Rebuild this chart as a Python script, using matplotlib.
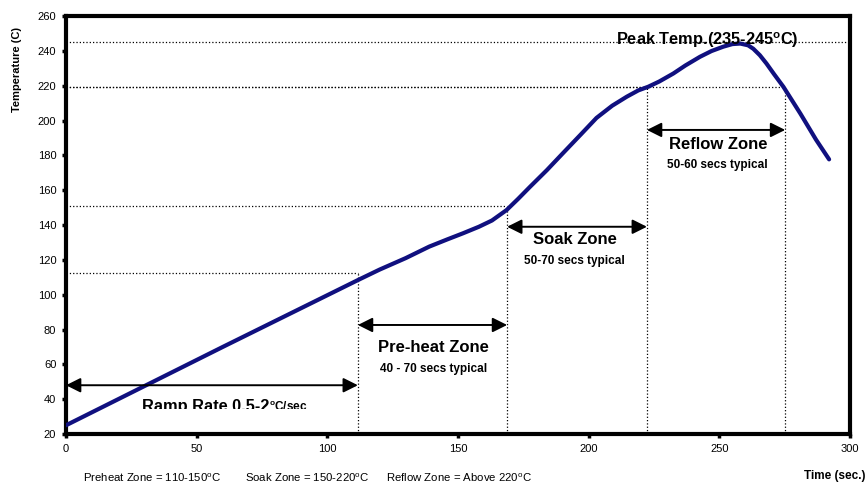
import matplotlib.pyplot as plt
from matplotlib.patches import Rectangle

plt.rcParams['font.family'] = ['Liberation Sans', 'DejaVu Sans']

# reflow profile
times = [0, 60, 112, 120, 130, 139, 146, 152, 158, 163, 168.6, 173, 177.6, 184, 190,
         197, 203, 209, 214.6, 219, 222.8, 227, 232.4, 237, 242.6, 247, 251.5, 255,
         258, 261, 263, 265.5, 268, 271, 274.5, 281, 287, 292]
temps = [25, 70, 108.6, 114.4, 121, 127.6, 131.8, 135.3, 139, 142.6, 148.6, 155,
         162, 171.5, 181, 192, 201.5, 208.5, 213.7, 217.3, 219.4, 222.4, 227, 231.6,
         236.6, 239.9, 242.4, 243.9, 244.2, 243.2, 241.2, 237.5, 232.8, 226.5, 219.4,
         204, 189, 177.7]

zone_x = [111.7, 168.8, 222.3, 275.2]
zone_y = [112.5, 151, 219, 219]
peak_y = 245

x_ticks = [0, 50, 100, 150, 200, 250, 300]
y_ticks = list(range(20, 261, 20))

fig = plt.figure(figsize=(8.67, 4.86), dpi=100)
ax = fig.add_axes([0.0761, 0.107, 0.9043, 0.86])

ax.plot(times, temps, color='#10107f', lw=3, zorder=3, solid_capstyle='round',
        solid_joinstyle='round')

# dotted guide lines
for zx, zy in zip(zone_x, zone_y):
    ax.plot([zx, zx], [20, zy], ls=':', color='black', lw=0.9)
    ax.plot([0, zx], [zy, zy], ls=':', color='black', lw=0.9)
ax.plot([0, 300], [peak_y, peak_y], ls=':', color='black', lw=0.9)

def arrow(x0, x1, y):
    ax.annotate('', xy=(x1, y), xytext=(x0, y),
                arrowprops=dict(arrowstyle='<|-|>', color='black', lw=1.4,
                                mutation_scale=22, shrinkA=0, shrinkB=0))

arrow(0, zone_x[0], 48)
arrow(zone_x[0], zone_x[1], 82.6)
arrow(zone_x[1], zone_x[2], 139)
arrow(zone_x[2], zone_x[3], 194.6)

# ramp label, cut off at the bottom like in the original
clip = Rectangle((0, 34.3), 300, 30, transform=ax.transData)
t = ax.text(29, 33.3, 'Ramp Rate 0.5-2', fontsize=11.8, fontweight='bold',
            ha='left', va='baseline', clip_on=True)
t.set_clip_path(clip)
fig.canvas.draw()
bb = t.get_window_extent(renderer=fig.canvas.get_renderer())
x_end = ax.transData.inverted().transform((bb.x1 - 12, bb.y0))[0]
t2 = ax.text(x_end, 33.3, r'$^{\mathregular{o}}$C/sec', fontsize=8.5, fontweight='bold',
             ha='left', va='baseline', clip_on=True)
t2.set_clip_path(clip)

ax.text(140.5, 69.4, 'Pre-heat Zone', fontsize=12, fontweight='bold', ha='center', va='center')
ax.text(140.5, 57.4, '40 - 70 secs typical', fontsize=8.5, fontweight='bold', ha='center', va='center')
ax.text(194.6, 131.4, 'Soak Zone', fontsize=12, fontweight='bold', ha='center', va='center')
ax.text(194.6, 119.4, '50-70 secs typical', fontsize=8.5, fontweight='bold', ha='center', va='center')
ax.text(249.4, 186.5, 'Reflow Zone', fontsize=12, fontweight='bold', ha='center', va='center')
ax.text(249.4, 174.5, '50-60 secs typical', fontsize=8.5, fontweight='bold', ha='center', va='center')
ax.text(245.3, 246.2, r'Peak Temp.(235-245$^{\mathregular{o}}$C)', fontsize=11.8, fontweight='bold',
        ha='center', va='center', zorder=4)

ax.set_xlim(0, 300)
ax.set_ylim(20, 260)
ax.set_xticks(x_ticks)
ax.set_yticks(y_ticks)
ax.tick_params(labelsize=8, length=3, width=2.5, pad=4)
for s in ax.spines.values():
    s.set_linewidth(3)

fig.text(17 / 867, 1 - 70 / 486, 'Temperature (C)', fontsize=8, fontweight='bold',
         rotation=90, ha='center', va='center')

note_y = 1 - 482 / 486
fig.text(83 / 867, note_y, r'Preheat Zone = 110-150$^{\mathregular{o}}$C', fontsize=8.2, va='baseline')
fig.text(245 / 867, note_y, r'Soak Zone = 150-220$^{\mathregular{o}}$C', fontsize=8.2, va='baseline')
fig.text(386 / 867, note_y, r'Reflow Zone = Above 220$^{\mathregular{o}}$C', fontsize=8.2, va='baseline')
fig.text(866 / 867, 1 - 479 / 486, 'Time (sec.)', fontsize=8.5, fontweight='bold',
         ha='right', va='baseline')

fig.savefig('out.png', dpi=100)
